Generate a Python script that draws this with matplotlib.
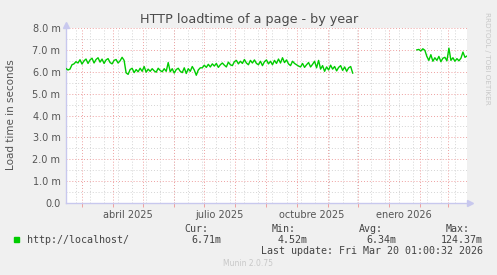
import matplotlib

matplotlib.use("Agg")
import matplotlib.pyplot as plt  # noqa: E402
import pandas as pd  # noqa: E402

# load time in milliseconds, one reading every 2 days
seg1_start = "2025-02-13"
seg1_values = [
    6.15, 6.08, 6.12, 6.32, 6.36, 6.46,
    6.40, 6.55, 6.35, 6.50, 6.58, 6.38, 6.54, 6.62, 6.40, 6.56,
    6.64, 6.44, 6.58, 6.38, 6.54, 6.60, 6.42, 6.36, 6.52, 6.56,
    6.40, 6.50, 6.66, 6.52, 5.95,
    5.88, 6.10, 6.16, 5.96, 6.10, 6.00, 6.16, 6.02, 6.24, 5.98,
    6.12, 6.02, 6.14, 6.04, 5.98, 6.16, 6.06, 6.00, 6.14, 6.02,
    6.42, 6.00, 6.14, 5.94, 6.10, 6.16, 6.02, 5.96, 6.18, 5.92,
    6.14, 6.02, 6.24, 6.08, 5.84, 6.08, 6.18,
    6.18, 6.30, 6.20, 6.34, 6.22, 6.36, 6.26, 6.38, 6.20, 6.32,
    6.40, 6.30, 6.22, 6.44, 6.32, 6.28, 6.46, 6.52, 6.36, 6.48,
    6.38, 6.56, 6.40, 6.32, 6.52, 6.40, 6.54, 6.38,
    6.32, 6.48, 6.28, 6.46, 6.54, 6.36, 6.48, 6.32, 6.52, 6.38,
    6.58, 6.40, 6.64, 6.42, 6.54, 6.36, 6.28, 6.48, 6.38, 6.32,
    6.26, 6.22, 6.38, 6.20, 6.32, 6.42, 6.22, 6.34, 6.48, 6.18, 6.52,
    6.12, 6.28, 6.02, 6.22, 6.08, 6.30, 6.12, 6.24, 6.04, 6.20,
    6.28, 6.06, 6.22, 6.02, 6.18, 6.24, 5.94,
]
seg2_start = "2026-01-29"
seg2_values = [
    7.00, 7.02, 6.95, 7.05, 6.98, 6.70, 6.52, 6.78, 6.48, 6.64,
    6.52, 6.70, 6.46, 6.62, 6.66, 6.50, 7.08, 6.52, 6.64, 6.48,
    6.60, 6.50, 6.62, 6.90, 6.66, 6.72,
]

y_ticks = [0, 1, 2, 3, 4, 5, 6, 7, 8]
y_labels = ["0.0", "1.0 m", "2.0 m", "3.0 m", "4.0 m", "5.0 m", "6.0 m", "7.0 m", "8.0 m"]
x_label_dates = ["2025-04-16", "2025-07-16", "2025-10-16", "2026-01-16"]
x_labels = ["abril 2025", "julio 2025", "octubre 2025", "enero 2026"]
legend_cols = [("Cur:", "6.71m"), ("Min:", "4.52m"), ("Avg:", "6.34m"), ("Max:", "124.37m")]

W, H = 497, 275
BG = "#f0f0f0"
TXT = "#555555"
MAJ = "#eea0a0"
MIN = "#d4d4d4"
AXC = "#c8c8ee"


def px(x, y):
    return x / W, 1 - y / H


fig = plt.figure(figsize=(W / 100, H / 100), dpi=100, facecolor=BG)
ax = fig.add_axes([66 / W, (H - 203) / H, 401 / W, 175 / H])
ax.set_facecolor("white")

t0 = pd.Timestamp("2025-02-13 01:00")
t1 = pd.Timestamp("2026-03-20 01:00")
two_weeks = pd.date_range("2025-02-23", t1, freq="14D")
months = pd.date_range("2025-03-01", t1, freq="MS")

# grid: months in red, two-week steps in gray
for d in two_weeks:
    ax.axvline(d, color=MIN, lw=0.7, ls=(0, (1, 2)), zorder=1)
for v in [0.5 + i for i in range(8)]:
    ax.axhline(v, color=MIN, lw=0.7, ls=(0, (1, 2)), zorder=1)
for d in months:
    ax.axvline(d, color=MAJ, lw=0.7, ls=(0, (1, 2)), zorder=2)
for v in y_ticks[1:]:
    ax.axhline(v, color=MAJ, lw=0.7, ls=(0, (1, 2)), zorder=2)

s1 = pd.Series(seg1_values, index=pd.date_range(seg1_start, periods=len(seg1_values), freq="2D"))
s2 = pd.Series(seg2_values, index=pd.date_range(seg2_start, periods=len(seg2_values), freq="2D"))
for s in (s1, s2):
    ax.plot(s.index, s.values, color="#00cc00", lw=1.0, zorder=3)

ax.set_xlim(t0, t1)
ax.set_ylim(0, 8)
ax.set_yticks(y_ticks)
ax.set_yticklabels(y_labels)
ax.set_xticks(pd.to_datetime(x_label_dates))
ax.set_xticklabels(x_labels)
ax.set_xticks(months, minor=True)
ax.tick_params(axis="both", which="major", length=0, labelsize=7, colors=TXT, pad=4)
ax.tick_params(axis="x", which="major", pad=5)
ax.tick_params(axis="x", which="minor", length=3, width=0.7, color=MAJ)

for side in ("top", "right"):
    ax.spines[side].set_visible(False)
for side in ("left", "bottom"):
    ax.spines[side].set_color(AXC)
    ax.spines[side].set_linewidth(1.0)

# axis arrows
ax.plot([0], [1.02], marker="^", ms=4, color=AXC, transform=ax.transAxes, clip_on=False)
ax.plot([1.008], [0], marker=">", ms=4, color=AXC, transform=ax.transAxes, clip_on=False)

fig.text(*px(249, 19), "HTTP loadtime of a page - by year", ha="center", va="center",
         fontsize=9.2, color="#4a4a4a")
fig.text(*px(11, 115), "Load time in seconds", rotation=90, ha="center", va="center",
         fontsize=7.5, color=TXT)
fig.text(*px(487, 58), "RRDTOOL / TOBI OETIKER", rotation=270, ha="center", va="center",
         fontsize=5.2, color="#c8c8c8")

# legend block
fig.patches.append(plt.Rectangle(px(14, 242), 5 / W, 5 / H, transform=fig.transFigure,
                                 color="#00cc00", figure=fig))
mono = dict(family="DejaVu Sans Mono", fontsize=7.2, color="#444444", va="center")
fig.text(*px(26.5, 240), "http://localhost/", ha="left", **mono)
head_right = [208, 296, 383, 470]
val_right = [221, 308, 396, 483]
for (head, val), hx, vx in zip(legend_cols, head_right, val_right):
    fig.text(*px(hx, 228.5), head, ha="right", **mono)
    fig.text(*px(vx, 240), val, ha="right", **mono)
fig.text(*px(483, 251), "Last update: Fri Mar 20 01:00:32 2026", ha="right", **mono)
fig.text(*px(248, 264), "Munin 2.0.75", ha="center", va="center", fontsize=5.5, color="#c8c8c8")

fig.savefig("out.png", dpi=100, facecolor=BG)
plt.close(fig)
